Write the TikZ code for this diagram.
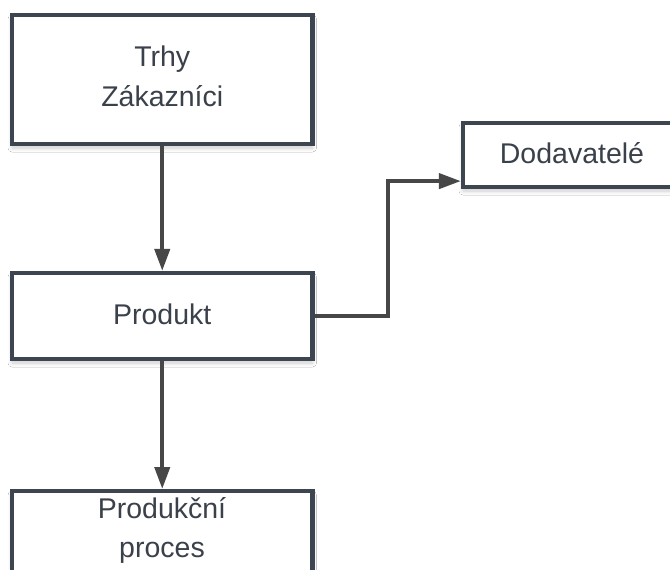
\documentclass[tikz,border=0pt]{standalone}
\usepackage{fontspec}
\setmainfont{Liberation Sans}
\usetikzlibrary{arrows.meta,calc,shadows.blur}
\definecolor{boxline}{HTML}{3C4550}
\definecolor{arrowc}{HTML}{474747}
\definecolor{txt}{HTML}{3A414A}
\tikzset{
  box/.style={draw=boxline, line width=4.2pt, fill=white, align=center,
    text=txt, font=\fontsize{28.5}{39}\selectfont, inner sep=0pt,
    blur shadow={shadow blur steps=6, shadow xshift=0pt, shadow yshift=-4pt, shadow opacity=20, shadow blur radius=4pt}},
  lbl/.style={text=txt, font=\fontsize{28.5}{39}\selectfont, align=center, inner sep=0pt},
  conn/.style={draw=arrowc, line width=4pt, -{Triangle[length=22pt,width=15pt]}}
}
\begin{document}
\begin{tikzpicture}[x=1pt,y=1pt]
\useasboundingbox (0,0) rectangle (670,-570);
\clip (0,0) rectangle (670,-570);
\fill[white] (0,0) rectangle (670,-570);
\node[box, minimum width=300.5pt, minimum height=129pt] (mk) at (162.25,-79.5) {\raisebox{6pt}{\shortstack{Trhy\\[10pt]Zákazníci}}};
\node[box, minimum width=300.5pt, minimum height=86pt] (prod) at (162.25,-316) {\raisebox{3pt}{Produkt}};
\node[box, minimum width=218pt, minimum height=64pt] (dod) at (572,-155) {\raisebox{3pt}{Dodavatelé}};
\node[box, minimum width=300.5pt, minimum height=129pt, anchor=north] (proc) at (162.25,-489) {};
\node[lbl, anchor=base] (proct) at (162,-518) {Produkční};
\node[lbl, anchor=base] (proct2) at (162,-557) {proces};
\coordinate (dodin) at ($(dod.south west)+(0,8)$);
\draw[conn] (mk.south) -- (prod.north);
\draw[conn] (prod.south) -- (proc.north);
\draw[conn] (prod.east) -| (388,-316) |- (dodin);
\end{tikzpicture}
\end{document}
